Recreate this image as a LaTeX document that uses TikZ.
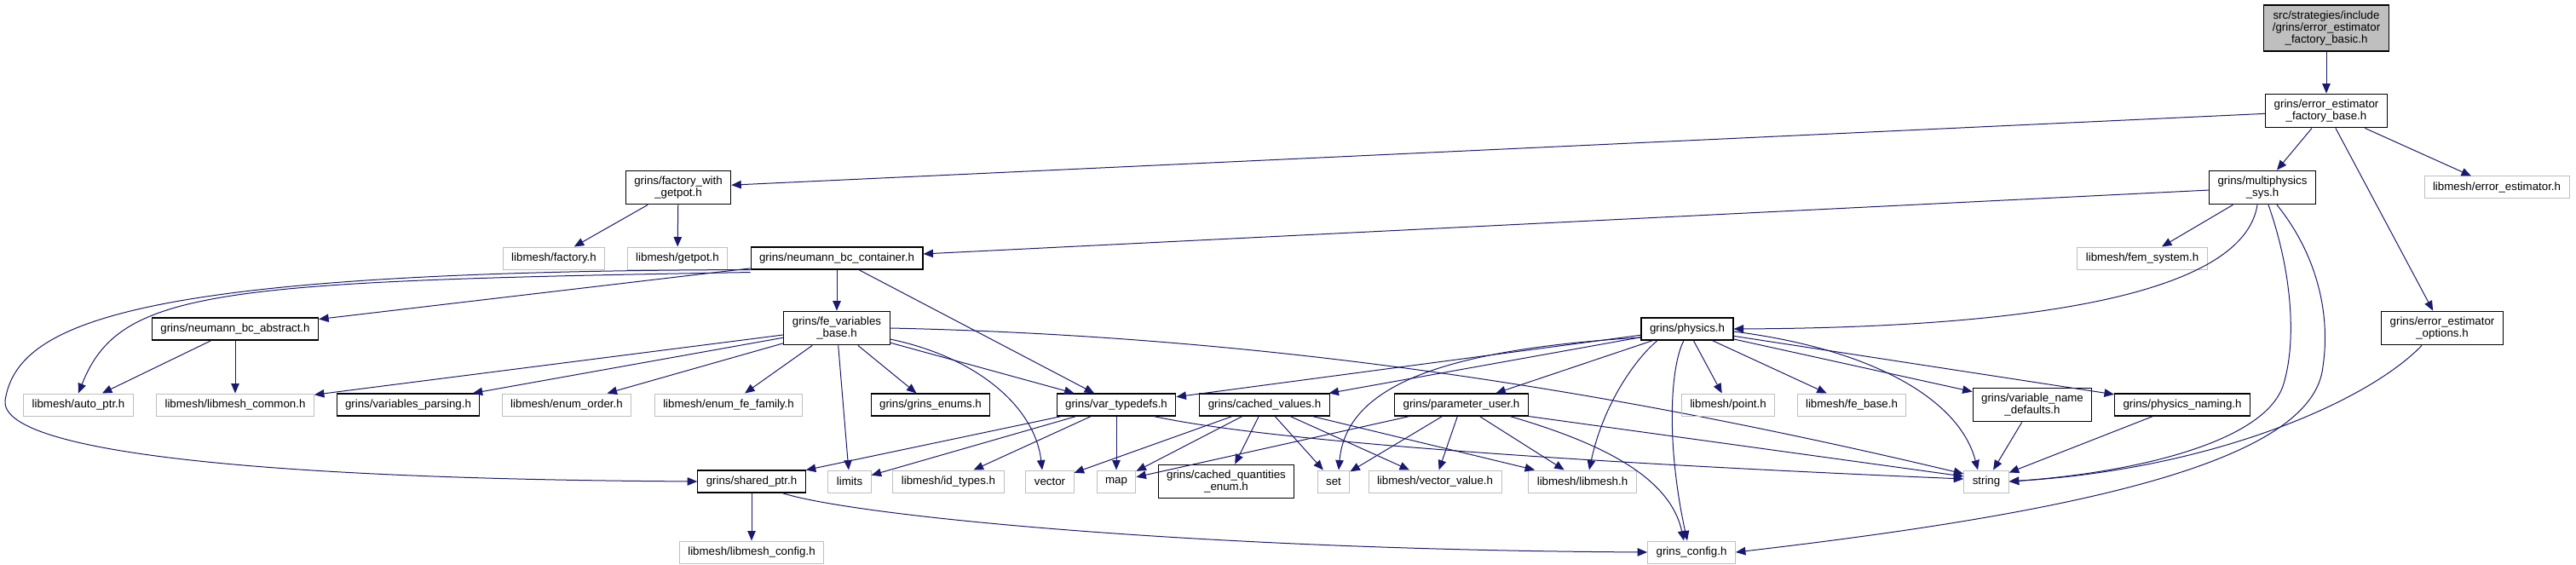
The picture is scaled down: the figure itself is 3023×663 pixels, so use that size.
\documentclass[tikz,border=0pt]{standalone}
\usepackage{fontspec}
\setmainfont{Liberation Sans}
\usetikzlibrary{arrows.meta}
\definecolor{edgeblue}{HTML}{191970}
\definecolor{extgray}{HTML}{BFBFBF}
\begin{document}
\begin{tikzpicture}[x=1pt, y=-1pt,
  hdr/.style={rectangle, draw=black, line width=1.1pt, align=center, font=\fontsize{13.3}{14.3}\selectfont, inner xsep=10pt, inner ysep=6.5pt, minimum height=26pt},
  sys/.style={hdr, draw=extgray, line width=1pt},
  dep/.style={draw=edgeblue, line width=1pt, -{Triangle[length=11.5pt,width=9.5pt]}}]
\useasboundingbox (0,0) rectangle (3023,663);
\node[hdr, fill=extgray] (inc0) at (2730,33){src/strategies/include\\/grins/error\_estimator\\\_factory\_basic.h};
\node[hdr] (inc1) at (2730,130){grins/error\_estimator\\\_factory\_base.h};
\draw[dep](inc0) -- (inc1);
\node[hdr] (inc2) at (796,220){grins/factory\_with\\\_getpot.h};
\node[hdr] (inc3) at (2655,220){grins/multiphysics\\\_sys.h};
\node[sys] (inc4) at (2930,220){libmesh/error\_estimator.h};
\node[hdr] (inc5) at (2866,385){grins/error\_estimator\\\_options.h};
\draw[dep](inc1) -- (inc2);
\draw[dep](inc1) -- (inc3);
\draw[dep](inc1) -- (inc4);
\draw[dep](inc1) -- (inc5);
\node[sys] (inc6) at (650,303){libmesh/factory.h};
\node[sys] (inc7) at (795,303){libmesh/getpot.h};
\draw[dep](inc2) -- (inc6);
\draw[dep](inc2) -- (inc7);
\node[hdr] (inc8) at (982,303){grins/neumann\_bc\_container.h};
\node[sys] (inc9) at (2514,303){libmesh/fem\_system.h};
\node[hdr] (inc10) at (1980,386){grins/physics.h};
\node[sys] (inc11) at (2331,565){string};
\node[sys] (inc12) at (1985,648){grins\_config.h};
\draw[dep](inc3) -- (inc8);
\draw[dep](inc3) -- (inc9);
\draw[dep]([xshift=-6pt]inc3.south) .. controls (2635,330) and (2450,384) .. (inc10.east);
\draw[dep]([xshift=7pt]inc3.south) .. controls (2690,320) and (2695,400) .. (2680,450) .. controls (2660,520) and (2500,555) .. (inc11.east);
\draw[dep]([xshift=17pt]inc3.south) .. controls (2720,300) and (2735,370) .. (2726,430) .. controls (2715,540) and (2450,600) .. (inc12.east);
\draw[dep]([xshift=-24pt]inc5.south) .. controls (2780,470) and (2600,550) .. (inc11.east);
\node[sys] (inc13) at (92,475){libmesh/auto\_ptr.h};
\node[hdr] (inc14) at (882,565){grins/shared\_ptr.h};
\node[hdr] (inc15) at (276,386){grins/neumann\_bc\_abstract.h};
\node[hdr] (inc16) at (982,385){grins/fe\_variables\\\_base.h};
\node[hdr] (inc17) at (1310,475){grins/var\_typedefs.h};
\draw[dep]([yshift=-3pt]inc8.south west) .. controls (250,330) and (140,340) .. (inc13.north);
\draw[dep](inc8.south west) .. controls (150,318) and (20,380) .. (6,470) .. controls (0,530) and (300,562) .. (inc14.west);
\draw[dep](inc8) -- (inc15);
\draw[dep](inc8) -- (inc16);
\draw[dep](inc8) -- (inc17);
\node[sys] (inc18) at (276,475){libmesh/libmesh\_common.h};
\draw[dep](inc15) -- (inc13);
\draw[dep](inc15) -- (inc18);
\node[hdr] (inc19) at (479,475){grins/variables\_parsing.h};
\node[sys] (inc20) at (665,475){libmesh/enum\_order.h};
\node[sys] (inc21) at (855,475){libmesh/enum\_fe\_family.h};
\node[sys] (inc22) at (997,565){limits};
\node[hdr] (inc23) at (1092,475){grins/grins\_enums.h};
\node[sys] (inc24) at (1232,565){vector};
\draw[dep](inc16) -- (inc18);
\draw[dep](inc16) -- (inc19);
\draw[dep](inc16) -- (inc20);
\draw[dep](inc16) -- (inc21);
\draw[dep](inc16) -- (inc22);
\draw[dep](inc16) -- (inc23);
\draw[dep](inc16) -- (inc17);
\draw[dep]([yshift=-13pt]inc16.east) .. controls (1150,420) and (1215,480) .. ([xshift=-9pt]inc24.north);
\draw[dep](inc16.east) .. controls (1500,395) and (1900,460) .. ([yshift=9pt]inc11.west);
\node[sys] (inc25) at (1113,565){libmesh/id\_types.h};
\node[sys] (inc26) at (1310,565){map};
\draw[dep](inc17) -- (inc14);
\draw[dep](inc17) -- (inc22);
\draw[dep](inc17) -- (inc25);
\draw[dep](inc17) -- (inc26);
\draw[dep]([xshift=44pt]inc17.south) .. controls (1500,520) and (1900,545) .. ([yshift=3pt]inc11.west);
\node[sys] (inc37) at (882,648){libmesh/libmesh\_config.h};
\draw[dep](inc14) -- (inc37);
\draw[dep]([xshift=36pt]inc14.south) .. controls (1000,605) and (1400,645) .. (inc12.west);
\node[hdr] (inc27) at (1484,475){grins/cached\_values.h};
\node[hdr] (inc28) at (1715,475){grins/parameter\_user.h};
\node[sys] (inc29) at (1565,565){set};
\node[sys] (inc30) at (1857,565){libmesh/libmesh.h};
\node[sys] (inc31) at (2028,475){libmesh/point.h};
\node[sys] (inc32) at (2173,475){libmesh/fe\_base.h};
\node[hdr] (inc33) at (2385,475){grins/variable\_name\\\_defaults.h};
\node[hdr] (inc34) at (2561,475){grins/physics\_naming.h};
\draw[dep](inc10) -- (inc17);
\draw[dep](inc10) -- (inc27);
\draw[dep](inc10) -- (inc28);
\draw[dep]([yshift=-10pt]inc10.west) .. controls (1700,410) and (1580,450) .. ([xshift=6pt]inc29.north);
\draw[dep]([xshift=-35pt]inc10.south) .. controls (1915,425) and (1880,480) .. ([xshift=8pt]inc30.north);
\draw[dep]([xshift=-4pt]inc10.south) .. controls (1960,430) and (1955,520) .. ([xshift=-5pt]inc12.north);
\draw[dep](inc10) -- (inc31);
\draw[dep](inc10) -- (inc32);
\draw[dep](inc10) -- (inc33);
\draw[dep](inc10) -- (inc34);
\draw[dep]([yshift=-3pt]inc10.east) .. controls (2200,410) and (2300,470) .. ([xshift=-10pt]inc11.north);
\node[hdr] (inc35) at (1439,565){grins/cached\_quantities\\\_enum.h};
\node[sys] (inc36) at (1684,565){libmesh/vector\_value.h};
\draw[dep](inc27) -- (inc24);
\draw[dep](inc27) -- (inc26);
\draw[dep](inc27) -- (inc35);
\draw[dep](inc27) -- (inc29);
\draw[dep](inc27) -- (inc36);
\draw[dep](inc27) -- (inc30);
\draw[dep](inc28) -- (inc26);
\draw[dep](inc28) -- (inc29);
\draw[dep](inc28) -- (inc36);
\draw[dep](inc28) -- (inc30);
\draw[dep]([xshift=57pt]inc28.south) .. controls (1880,520) and (1960,560) .. ([xshift=-9pt]inc12.north);
\draw[dep](inc28.south east) -- ([yshift=6pt]inc11.west);
\draw[dep](inc33) -- (inc11);
\draw[dep](inc34) -- (inc11);
\end{tikzpicture}
\end{document}
